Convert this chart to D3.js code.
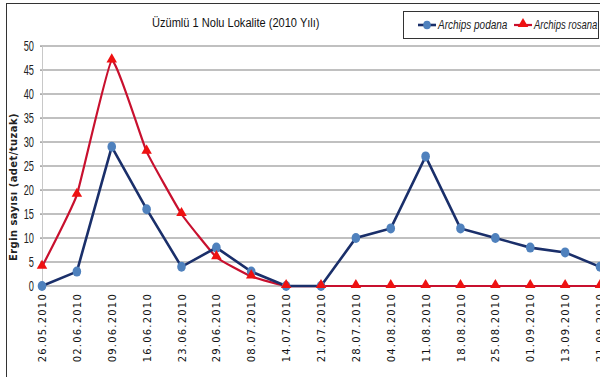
<!DOCTYPE html>
<html>
<head>
<meta charset="utf-8">
<script src="https://cdn.jsdelivr.net/npm/d3@7/dist/d3.min.js"></script>
<style>
  html, body { margin: 0; padding: 0; background: #fff; }
  svg { display: block; }
</style>
</head>
<body>
<svg id="chart" width="600" height="377"></svg>
<script>
// Sampling dates (trap checks) and adult counts per trap
const dates = ["26.05.2010","02.06.2010","09.06.2010","16.06.2010","23.06.2010","29.06.2010",
  "08.07.2010","14.07.2010","21.07.2010","28.07.2010","04.08.2010","11.08.2010",
  "18.08.2010","25.08.2010","01.09.2010","13.09.2010","21.09.2010"];
const podana = [0, 3, 29, 16, 4, 8, 3, 0, 0, 10, 12, 27, 12, 10, 8, 7, 4];
const rosana = [4, 19, 47, 28, 15, 6, 2, 0, 0, 0, 0, 0, 0, 0, 0, 0, 0];
const yTicks = [0, 5, 10, 15, 20, 25, 30, 35, 40, 45, 50];
const seriesNames = ["Archips podana", "Archips rosana"];

const sans = "'Liberation Sans', Arial, sans-serif";
const svg = d3.select("#chart");

const x = d3.scalePoint().domain(dates).range([42, 600]);
const y = d3.scaleLinear().domain([0, 50]).range([286, 46]);

// outer frame
svg.append("rect").attr("x", 6.5).attr("y", 3.5).attr("width", 620).attr("height", 400)
  .attr("fill", "none").attr("stroke", "#333").attr("stroke-width", 1);

// horizontal gridlines
svg.append("g").selectAll("line").data(yTicks).join("line")
  .attr("x1", 40).attr("x2", 600)
  .attr("y1", d => y(d)).attr("y2", d => y(d))
  .attr("stroke", "#ababab").attr("stroke-width", 1.4);

// y axis with condensed tick labels
const yAxis = svg.append("g").attr("transform", "translate(42,0)")
  .call(d3.axisLeft(y).tickValues(yTicks).tickSize(2).tickPadding(0));
yAxis.select(".domain").attr("stroke", "#c8c8c8");
yAxis.selectAll(".tick line").attr("stroke", "#ababab");
yAxis.selectAll("text")
  .attr("font-family", sans).attr("font-size", 14).attr("fill", "#222")
  .attr("x", 0)
  .attr("transform", "translate(-8,0) scale(0.66,1)");

// x axis labels (rotated)
const xAxis = svg.append("g").attr("transform", "translate(0,286)")
  .call(d3.axisBottom(x).tickSize(0).tickPadding(0));
xAxis.select(".domain").remove();
xAxis.selectAll("text")
  .attr("font-family", "'DejaVu Sans', Verdana, sans-serif")
  .attr("font-size", 10).attr("letter-spacing", 1.2).attr("fill", "#111")
  .attr("transform", "rotate(-90)")
  .attr("text-anchor", "end")
  .attr("x", -7).attr("y", 0).attr("dy", "0.35em");

// axis title
svg.append("text")
  .attr("transform", "translate(17,187) rotate(-90)")
  .attr("text-anchor", "middle")
  .attr("font-family", "'DejaVu Sans', Verdana, sans-serif")
  .attr("font-weight", "bold").attr("font-size", 10).attr("letter-spacing", 0.5)
  .attr("fill", "#222")
  .attr("textLength", 148).attr("lengthAdjust", "spacingAndGlyphs")
  .text("Ergin sayısı (adet/tuzak)");

// chart title (condensed)
svg.append("text")
  .attr("transform", "translate(152,27) scale(0.82,1)")
  .attr("font-family", sans).attr("font-size", 13.5).attr("fill", "#111")
  .text("Üzümlü 1 Nolu Lokalite (2010 Yılı)");

// red series: lightly smoothed line with triangle markers
const redLine = d3.line().x((d, i) => x(dates[i])).y(d => y(d)).curve(d3.curveCardinal.tension(0.65));
svg.append("path").datum(rosana).attr("d", redLine)
  .attr("fill", "none").attr("stroke", "#c8102e").attr("stroke-width", 2.2);

// blue series: straight line with circle markers
const blueLine = d3.line().x((d, i) => x(dates[i])).y(d => y(d));
svg.append("path").datum(podana).attr("d", blueLine)
  .attr("fill", "none").attr("stroke", "#1a2f6a").attr("stroke-width", 2.6);

svg.append("g").selectAll("ellipse").data(podana).join("ellipse")
  .attr("cx", (d, i) => x(dates[i])).attr("cy", d => y(d))
  .attr("rx", 4.3).attr("ry", 5).attr("fill", "#4f81bd");

const tri = d3.symbol().type(d3.symbolTriangle).size(48);
svg.append("g").selectAll("path").data(rosana).join("path")
  .attr("d", tri)
  .attr("transform", (d, i) => `translate(${x(dates[i])},${y(d) - 1})`)
  .attr("fill", "#ee1111");

// legend
const lg = svg.append("g");
lg.append("rect").attr("x", 403.5).attr("y", 11.5).attr("width", 195).attr("height", 27)
  .attr("fill", "#fff").attr("stroke", "#333").attr("stroke-width", 1);
// podana entry
lg.append("line").attr("x1", 418).attr("x2", 436).attr("y1", 25).attr("y2", 25)
  .attr("stroke", "#1a2f6a").attr("stroke-width", 2.6);
lg.append("ellipse").attr("cx", 427).attr("cy", 25).attr("rx", 3.8).attr("ry", 4.3).attr("fill", "#4f81bd");
lg.append("text").attr("transform", "translate(438,29) scale(0.8,1)").attr("font-family", sans)
  .attr("font-style", "italic").attr("font-size", 12.5).attr("fill", "#222")
  .text(seriesNames[0]);
// rosana entry
lg.append("line").attr("x1", 514).attr("x2", 532).attr("y1", 25).attr("y2", 25)
  .attr("stroke", "#c8102e").attr("stroke-width", 2.2);
lg.append("path").attr("d", tri).attr("transform", "translate(523,24)").attr("fill", "#ee1111");
lg.append("text").attr("transform", "translate(534,29) scale(0.76,1)").attr("font-family", sans)
  .attr("font-style", "italic").attr("font-size", 12.5).attr("fill", "#222")
  .text(seriesNames[1]);
</script>
</body>
</html>
